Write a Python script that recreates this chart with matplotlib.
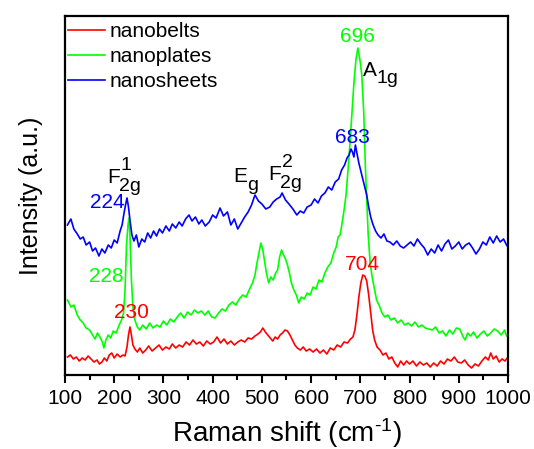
import numpy as np
import matplotlib
matplotlib.use("Agg")
import matplotlib.pyplot as plt
from matplotlib.ticker import MultipleLocator

plt.rcParams['font.family'] = ['Liberation Sans', 'DejaVu Sans']
plt.rcParams['mathtext.fontset'] = 'custom'
plt.rcParams['mathtext.rm'] = 'Liberation Sans'
plt.rcParams['mathtext.it'] = 'Liberation Sans'

# nanosheets (blue)
sheets_x = [105, 112, 118, 125, 131, 137, 143, 150, 156, 162,
            169, 175, 181, 188, 194, 200, 206, 212, 216, 220,
            223, 226, 229, 232, 236, 240, 245, 250, 256, 262,
            268, 274, 280, 286, 292, 298, 305, 312, 318, 325,
            332, 338, 345, 352, 358, 365, 372, 378, 385, 393,
            400, 407, 415, 422, 430, 437, 444, 451, 458, 465,
            472, 479, 486, 493, 500, 508, 516, 523, 530, 537,
            541, 548, 555, 563, 571, 578, 585, 592, 600, 607,
            614, 621, 628, 635, 642, 649, 656, 662, 668, 673,
            677, 681, 684, 687, 690, 693, 697, 701, 705, 709,
            713, 717, 721, 726, 731, 736, 742, 748, 754, 760,
            767, 774, 781, 788, 795, 802, 809, 816, 823, 830,
            837, 844, 851, 858, 865, 872, 879, 886, 893, 900,
            907, 914, 921, 928, 935, 942, 949, 956, 963, 970,
            977, 984, 991, 997, 1000]
sheets_y = [150, 156, 146, 141, 136, 138, 130, 133, 124, 127,
            119, 126, 122, 130, 127, 135, 132, 144, 150, 162,
            170, 177, 168, 155, 140, 134, 140, 128, 136, 133,
            142, 137, 144, 139, 146, 142, 149, 144, 151, 147,
            153, 149, 156, 160, 154, 158, 151, 155, 149, 153,
            160, 157, 167, 159, 163, 150, 156, 146, 152, 158,
            163, 170, 180, 174, 171, 166, 168, 173, 176, 178,
            182, 175, 171, 166, 160, 164, 162, 168, 170, 176,
            172, 179, 182, 188, 185, 193, 196, 205, 210, 217,
            220, 226, 223, 218, 230, 222, 212, 204, 196, 188,
            180, 168, 158, 150, 144, 140, 137, 141, 134, 133,
            130, 134, 129, 127, 130, 133, 129, 136, 131, 127,
            120, 126, 122, 130, 124, 131, 135, 126, 129, 133,
            126, 130, 132, 127, 121, 126, 133, 130, 138, 132,
            139, 133, 136, 130, 128]

# nanoplates (green)
plates_x = [105, 112, 118, 125, 131, 137, 143, 150, 156, 161,
            166, 171, 176, 179, 183, 188, 193, 198, 204, 210,
            215, 219, 222, 225, 228, 230, 232, 235, 238, 242,
            247, 252, 258, 265, 272, 279, 286, 293, 300, 307,
            314, 321, 328, 335, 342, 349, 356, 363, 370, 377,
            384, 391, 398, 405, 412, 419, 426, 433, 440, 447,
            454, 461, 468, 475, 481, 486, 490, 494, 498, 502,
            506, 510, 514, 518, 523, 528, 532, 536, 540, 544,
            548, 552, 556, 560, 565, 570, 575, 580, 586, 592,
            598, 604, 610, 616, 622, 628, 634, 640, 646, 651,
            655, 659, 663, 667, 671, 675, 679, 683, 687, 691,
            695, 699, 703, 707, 710, 713, 716, 720, 724, 728,
            733, 738, 744, 750, 756, 762, 769, 776, 783, 790,
            797, 804, 811, 818, 825, 832, 839, 846, 853, 860,
            867, 874, 881, 888, 895, 902, 909, 913, 918, 924,
            930, 937, 944, 951, 958, 965, 972, 979, 986, 993,
            997, 1000]
plates_y = [75, 68, 70, 60, 55, 52, 47, 45, 40, 36,
            42, 38, 33, 27, 35, 40, 37, 44, 42, 50,
            55, 62, 85, 130, 150, 157, 140, 95, 68, 55,
            48, 45, 50, 46, 52, 47, 50, 48, 54, 50,
            56, 53, 58, 62, 57, 63, 60, 65, 62, 64,
            60, 64, 58, 57, 62, 66, 64, 70, 73, 70,
            76, 80, 78, 86, 92, 100, 112, 122, 132, 125,
            112, 100, 92, 98, 95, 102, 105, 118, 125, 120,
            116, 110, 102, 92, 85, 80, 72, 78, 76, 82,
            80, 88, 86, 95, 93, 102, 108, 112, 122, 128,
            138, 140, 152, 165, 180, 205, 232, 262, 292, 315,
            327, 316, 300, 262, 212, 175, 140, 112, 98, 88,
            75, 70, 62, 58, 60, 55, 57, 52, 55, 50,
            52, 49, 53, 48, 50, 47, 46, 45, 48, 42,
            44, 39, 45, 41, 47, 46, 38, 35, 42, 39,
            43, 37, 41, 44, 39, 42, 46, 44, 40, 45,
            39, 41]

# nanobelts (red)
belts_x = [105, 111, 117, 123, 129, 135, 141, 147, 153, 159,
           165, 170, 175, 180, 185, 190, 195, 200, 206, 212,
           218, 222, 226, 229, 232, 235, 238, 242, 247, 252,
           258, 264, 270, 277, 284, 291, 298, 305, 312, 318,
           325, 332, 339, 346, 353, 360, 367, 374, 381, 388,
           395, 402, 409, 416, 423, 430, 437, 444, 451, 458,
           465, 472, 479, 486, 492, 497, 502, 507, 512, 517,
           522, 527, 532, 537, 542, 547, 552, 557, 562, 567,
           572, 578, 584, 590, 597, 604, 611, 618, 625, 632,
           639, 646, 653, 660, 667, 674, 680, 685, 689, 693,
           697, 701, 705, 709, 713, 717, 721, 725, 729, 734,
           740, 746, 752, 758, 764, 770, 776, 782, 788, 794,
           800, 807, 814, 821, 828, 835, 842, 849, 856, 863,
           870, 877, 884, 891, 898, 905, 912, 919, 926, 933,
           940, 947, 954, 960, 965, 970, 976, 982, 988, 994,
           1000]
belts_y = [18, 20, 16, 18, 14, 17, 15, 19, 16, 13,
           15, 11, 13, 17, 14, 20, 22, 17, 21, 18,
           20, 19, 28, 40, 48, 40, 30, 26, 23, 27,
           22, 25, 29, 24, 27, 30, 25, 28, 26, 31,
           27, 30, 28, 33, 30, 35, 31, 33, 29, 34,
           31, 33, 38, 32, 36, 31, 34, 30, 33, 35,
           33, 37, 36, 39, 41, 43, 47, 43, 40, 37,
           34, 38, 36, 40, 42, 45, 44, 40, 35, 30,
           27, 25, 28, 24, 26, 23, 26, 22, 25, 21,
           27, 25, 30, 28, 33, 32, 36, 38, 45, 60,
           78, 92, 100, 99, 94, 80, 62, 45, 35, 28,
           25, 20, 22, 16, 18, 12, 8, 14, 10, 14,
           11, 14, 9, 13, 10, 12, 8, 12, 9, 14,
           11, 16, 14, 18, 13, 12, 15, 10, 7, 11,
           9, 14, 18, 15, 22, 16, 19, 13, 16, 14,
           18]

red = '#ff0000'
green = '#00ff00'
blue = '#0000ff'

fig = plt.figure(figsize=(5.34, 4.49), dpi=100)
ax = fig.add_axes([0.1217, 0.1648, 0.8296, 0.7996])

ax.plot(belts_x, belts_y, color=red, lw=1.2, label='nanobelts')
ax.plot(plates_x, plates_y, color=green, lw=1.2, label='nanoplates')
ax.plot(sheets_x, sheets_y, color=blue, lw=1.2, label='nanosheets')

ax.set_xlim(100, 1000)
ax.set_ylim(0, 359)
ax.xaxis.set_major_locator(MultipleLocator(100))
ax.xaxis.set_minor_locator(MultipleLocator(50))
ax.set_yticks([])
ax.tick_params(axis='x', which='major', direction='out', length=6, width=1.5,
               labelsize=15, pad=4)
ax.tick_params(axis='x', which='minor', direction='out', length=3.5, width=1.5)
for s in ax.spines.values():
    s.set_linewidth(1.6)

ax.set_xlabel(r'Raman shift (cm$^{\text{-}1}$)', fontsize=20, labelpad=6)
ax.set_ylabel('Intensity (a.u.)', fontsize=18, labelpad=16)

ax.legend(loc='upper left', bbox_to_anchor=(0.0, 0.992), frameon=False,
          fontsize=15, handlelength=1.75, handletextpad=0.25, labelspacing=0.3,
          borderaxespad=0.1, borderpad=0.05)


def mode_label(x, y, main, sub, sup=None, sx=9, sy=-6, px=10, py=9.5):
    ax.text(x, y, main, fontsize=15, color='black', ha='left', va='baseline')
    ax.annotate(sub, xy=(x, y), xytext=(sx, sy), textcoords='offset points',
                fontsize=14, color='black', ha='left', va='baseline')
    if sup:
        ax.annotate(sup, xy=(x, y), xytext=(px, py), textcoords='offset points',
                    fontsize=14, color='black', ha='left', va='baseline')


mode_label(185, 192, 'F', '2g', '1')
mode_label(441, 193, 'E', 'g', sx=10)
mode_label(512, 195, 'F', '2g', '2')
mode_label(705, 299, 'A', '1g', sx=10, sy=-5)

fs = 15
ax.text(695, 333, '696', fontsize=fs, color=green, ha='center', va='baseline')
ax.text(683, 232, '683', fontsize=fs, color=blue, ha='center', va='baseline')
ax.text(705, 105, '704', fontsize=fs, color=red, ha='center', va='baseline')
ax.text(185, 167, '224', fontsize=fs, color=blue, ha='center', va='baseline')
ax.text(184, 93, '228', fontsize=fs, color=green, ha='center', va='baseline')
ax.text(236, 57, '230', fontsize=fs, color=red, ha='center', va='baseline')

fig.savefig('out.png', dpi=100)
